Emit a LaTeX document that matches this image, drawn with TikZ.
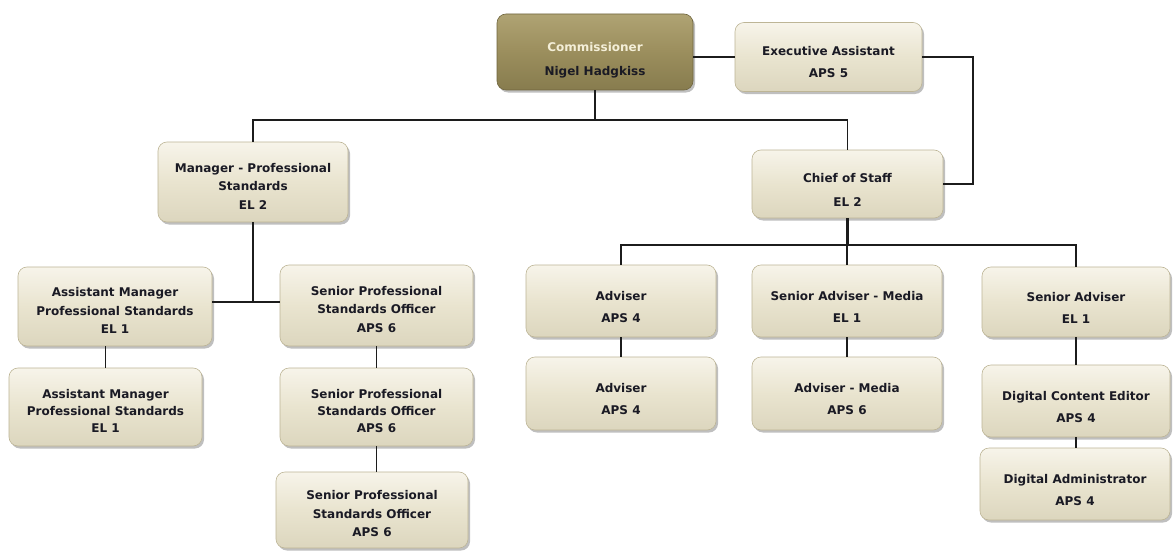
\documentclass[tikz,border=0pt]{standalone}
\usepackage{fontspec}
\setmainfont{DejaVu Sans}
\usetikzlibrary{shadows}
\definecolor{boxface}{HTML}{E9E4CF}
\definecolor{boxtop}{HTML}{F7F4EA}
\definecolor{boxbot}{HTML}{DCD6BE}
\definecolor{boxedge}{HTML}{BDB596}
\definecolor{commface}{HTML}{9B8E5D}
\definecolor{commtop}{HTML}{AFA373}
\definecolor{commbot}{HTML}{877C4E}
\definecolor{commedge}{HTML}{6F653E}
\definecolor{commtxt}{HTML}{F4EFD8}
\definecolor{txt}{HTML}{1A1A24}
\definecolor{wire}{HTML}{1C1C1C}
\begin{document}
\begin{tikzpicture}[x=1pt,y=-1pt,
  obox/.style={rectangle, rounded corners=9pt, draw=boxedge, line width=0.6pt,
    top color=boxtop, bottom color=boxbot, middle color=boxface,
    drop shadow={shadow xshift=2pt, shadow yshift=-2.5pt, fill=black!50},
    inner sep=0pt},
  cbox/.style={obox, draw=commedge, top color=commtop, bottom color=commbot, middle color=commface},
  ttl2/.style={align=center, text=txt, font=\fontsize{12}{22}\selectfont\bfseries, inner sep=0pt},
  ttl3/.style={align=center, text=txt, font=\fontsize{12}{18.5}\selectfont\bfseries, inner sep=0pt},
  wireline/.style={draw=wire, line width=1.3pt},
  thickwire/.style={draw=wire, line width=2.3pt}]
\useasboundingbox[fill=white] (0,0) rectangle (1173,551);

% boxes
\node[cbox, minimum width=196pt, minimum height=76pt] (comm) at (595,52) {};
\node[obox, minimum width=187pt, minimum height=69pt] (exec) at (828.5,57) {};
\node[obox, minimum width=190pt, minimum height=80pt] (mgr) at (253,182) {};
\node[obox, minimum width=191pt, minimum height=68pt] (chief) at (847.5,184) {};
\node[obox, minimum width=194pt, minimum height=79pt] (am1) at (115,306.5) {};
\node[obox, minimum width=193pt, minimum height=78pt] (am2) at (105.5,407) {};
\node[obox, minimum width=193pt, minimum height=81pt] (spso1) at (376.5,305.5) {};
\node[obox, minimum width=193pt, minimum height=78pt] (spso2) at (376.5,407) {};
\node[obox, minimum width=192pt, minimum height=76pt] (spso3) at (372,510) {};
\node[obox, minimum width=190pt, minimum height=72pt] (adv1) at (621,301) {};
\node[obox, minimum width=190pt, minimum height=73pt] (adv2) at (621,393.5) {};
\node[obox, minimum width=190pt, minimum height=72pt] (sam) at (847,301) {};
\node[obox, minimum width=190pt, minimum height=73pt] (advm) at (847,393.5) {};
\node[obox, minimum width=188pt, minimum height=70pt] (sa) at (1076,302) {};
\node[obox, minimum width=188pt, minimum height=72pt] (dce) at (1076,401) {};
\node[obox, minimum width=190pt, minimum height=72pt] (da) at (1075,484) {};

% texts
\node[ttl2, font=\fontsize{12}{24}\selectfont\bfseries] (commT) at ([yshift=-8pt]comm.center) {\textcolor{commtxt}{Commissioner}\\Nigel Hadgkiss};
\node[ttl2] (execT) at ([yshift=-5pt]exec.center) {Executive Assistant\\APS 5};
\node[ttl3] (mgrT) at ([yshift=-4pt]mgr.center) {Manager - Professional\\Standards\\EL 2};
\node[ttl2, font=\fontsize{12}{24}\selectfont\bfseries] (chiefT) at ([yshift=-6pt]chief.center) {Chief of Staff\\EL 2};
\node[ttl3] (am1T) at ([yshift=-4pt]am1.center) {Assistant Manager\\Professional Standards\\EL 1};
\node[ttl3, font=\fontsize{12}{17}\selectfont\bfseries] (am2T) at ([yshift=-4pt]am2.center) {Assistant Manager\\Professional Standards\\EL 1};
\node[ttl3] (spso1T) at ([yshift=-4pt]spso1.center) {Senior Professional\\Standards Officer\\APS 6};
\node[ttl3, font=\fontsize{12}{17}\selectfont\bfseries] (spso2T) at ([yshift=-4pt]spso2.center) {Senior Professional\\Standards Officer\\APS 6};
\node[ttl3] (spso3T) at ([yshift=-4pt]spso3.center) {Senior Professional\\Standards Officer\\APS 6};
\node[ttl2] (adv1T) at ([yshift=-6pt]adv1.center) {Adviser\\APS 4};
\node[ttl2] (adv2T) at ([yshift=-6pt]adv2.center) {Adviser\\APS 4};
\node[ttl2] (samT) at ([yshift=-6pt]sam.center) {Senior Adviser - Media\\EL 1};
\node[ttl2] (advmT) at ([yshift=-6pt]advm.center) {Adviser - Media\\APS 6};
\node[ttl2] (saT) at ([yshift=-6pt]sa.center) {Senior Adviser\\EL 1};
\node[ttl2] (dceT) at ([yshift=-6pt]dce.center) {Digital Content Editor\\APS 4};
\node[ttl2] (daT) at ([yshift=-6pt]da.center) {Digital Administrator\\APS 4};

% connectors
\coordinate (bus1) at (0,120);
\coordinate (bus2) at (0,245);
\coordinate (bus3) at (0,302);
\coordinate (rx) at (973,120);

\draw[thickwire] (comm.south) -- (comm.south |- bus1);
\draw[wireline] (mgr.north) |- (chief.north |- bus1) -- (chief.north);
\draw[wireline] (comm.east |- exec.west) -- (exec.west);
\draw[wireline] (exec.east) -| (rx) |- (chief.east);

\draw[thickwire] (chief.south) -- (chief.south |- bus2);
\draw[wireline] (adv1.north) |- (sa.north |- bus2) -- (sa.north);
\draw[wireline] (sam.north) -- (sam.north |- bus2);

\draw[wireline] (mgr.south) -- (mgr.south |- bus3);
\draw[wireline] (am1.east |- bus3) -- (spso1.west |- bus3);

\draw[wireline] (am2.north |- am1.south) -- (am2.north);
\draw[wireline] (spso1.south) -- (spso2.north);
\draw[wireline] (spso2.south) -- (spso2.south |- spso3.north);
\draw[wireline] (adv1.south) -- (adv2.north);
\draw[wireline] (sam.south) -- (advm.north);
\draw[wireline] (sa.south) -- (dce.north);
\draw[wireline] (dce.south) -- (dce.south |- da.north);
\end{tikzpicture}
\end{document}
